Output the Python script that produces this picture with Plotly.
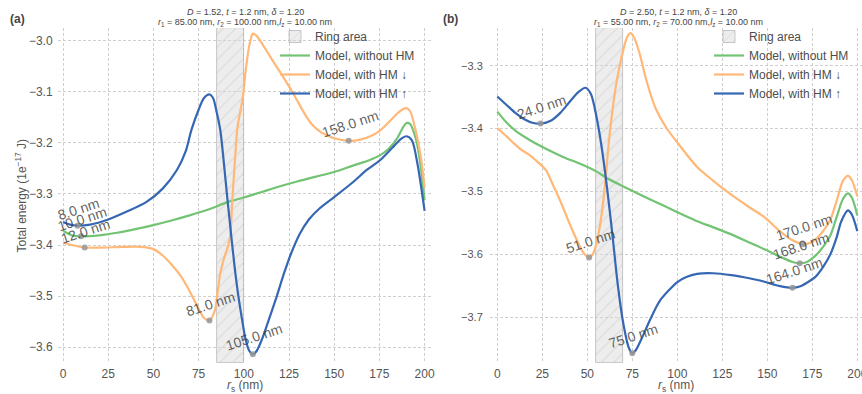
import plotly.graph_objects as go

W, H = 862, 394

# ---------------- data: panel (a) ----------------
A_D, A_T, A_DELTA, A_R1, A_R2, A_LZ = 1.52, 1.2, 1.20, 85.0, 100.0, 10.0

a_green_x = [0, 5, 10, 20, 30, 40, 50, 60, 70, 80, 91, 100, 110, 120, 130, 140, 150, 160, 170, 175, 180, 185, 188, 190, 192, 195, 197, 200]
a_green_y = [-3.372, -3.381, -3.383, -3.381, -3.376, -3.369, -3.361, -3.352, -3.342, -3.331, -3.316, -3.307, -3.296, -3.285,
             -3.275, -3.266, -3.257, -3.245, -3.233, -3.225, -3.212, -3.190, -3.170, -3.161, -3.163, -3.190, -3.225, -3.312]

a_orange_x = [0, 5, 12, 20, 30, 40, 45, 50, 55, 60, 65, 70, 75, 78, 81, 84, 85.5, 87, 89, 91, 92.5, 93.5, 95, 96.5, 99.5, 101, 103, 105,
              107, 110, 113, 118, 122, 126, 130, 134, 138, 143, 150, 158, 165, 170, 175, 180, 185, 188, 190, 192, 195, 198, 200]
a_orange_y = [-3.395, -3.400, -3.405, -3.405, -3.404, -3.403, -3.404, -3.408, -3.420, -3.438, -3.460, -3.490, -3.525, -3.543, -3.548,
              -3.528, -3.492, -3.455, -3.427, -3.405, -3.382, -3.320, -3.240, -3.170, -3.110, -3.060, -3.010, -2.986,
              -2.990, -3.005, -3.022, -3.050, -3.072, -3.095, -3.120, -3.145, -3.165, -3.180, -3.191, -3.196, -3.193, -3.187,
              -3.177, -3.160, -3.142, -3.134, -3.132, -3.138, -3.175, -3.230, -3.288]

a_blue_x = [0, 4, 8, 15, 25, 35, 46, 55, 63, 68, 71, 75, 78, 81, 83, 85, 87, 89, 91, 93, 95, 97, 99, 101, 103, 105, 107, 110, 113,
            118, 122, 126, 131, 136, 142, 150, 160, 168, 175, 182, 187, 190, 193, 196, 200]
a_blue_y = [-3.355, -3.360, -3.362, -3.360, -3.350, -3.335, -3.316, -3.290, -3.253, -3.215, -3.175, -3.135, -3.112, -3.105, -3.112,
            -3.140, -3.175, -3.240, -3.312, -3.380, -3.445, -3.500, -3.545, -3.585, -3.607, -3.614, -3.608, -3.585, -3.555,
            -3.503, -3.458, -3.418, -3.378, -3.350, -3.328, -3.306, -3.278, -3.253, -3.235, -3.210, -3.192, -3.187, -3.195,
            -3.240, -3.333]

a_min_x = [8, 10, 12, 81, 105, 158]
a_min_y = [-3.362, -3.383, -3.405, -3.548, -3.614, -3.196]

# ---------------- data: panel (b) ----------------
B_D, B_T, B_DELTA, B_R1, B_R2, B_LZ = 2.50, 1.2, 1.20, 55.0, 70.0, 10.0

b_green_x = [0, 5, 10, 18, 27, 36.5, 46, 55, 61, 70, 80, 92, 100, 110, 120, 129, 140, 150, 158, 164, 168, 172, 176, 181, 185, 188.6, 192, 194.8, 197, 200]
b_green_y = [-3.373, -3.390, -3.403, -3.418, -3.432, -3.445, -3.456, -3.468, -3.479, -3.492, -3.506, -3.522, -3.533, -3.546, -3.557,
             -3.567, -3.581, -3.594, -3.605, -3.612, -3.614, -3.612, -3.604, -3.588, -3.570, -3.540, -3.512, -3.503, -3.510, -3.538]

b_orange_x = [0, 5, 9, 13, 18, 22, 27, 31, 35, 40, 44, 48, 51, 53, 56, 58, 60, 62, 64, 66, 68, 70, 72, 74, 76, 79, 83, 88, 94, 100,
              111, 120, 129, 140, 148, 157, 163, 170, 175, 181, 185, 188.6, 192, 194.8, 197, 200]
b_orange_y = [-3.399, -3.412, -3.423, -3.433, -3.442, -3.452, -3.466, -3.490, -3.515, -3.550, -3.576, -3.598, -3.605, -3.600, -3.571,
              -3.535, -3.485, -3.420, -3.370, -3.330, -3.300, -3.275, -3.255, -3.248, -3.255, -3.280, -3.325, -3.368, -3.399,
              -3.422, -3.461, -3.483, -3.503, -3.525, -3.540, -3.563, -3.576, -3.584, -3.580, -3.563, -3.545, -3.514, -3.483,
              -3.475, -3.482, -3.508]

b_blue_x = [0, 5, 10, 15, 20, 24, 30, 35, 40, 45, 49, 52, 55, 58, 61, 64, 67, 70, 73, 75, 77, 80, 85, 90, 95, 100, 105, 111, 120,
            130, 140, 148, 155, 160, 164, 168, 172, 177, 181, 185, 188.6, 191, 194.8, 197, 200]
b_blue_y = [-3.349, -3.362, -3.375, -3.385, -3.391, -3.392, -3.387, -3.375, -3.358, -3.342, -3.335, -3.345, -3.380, -3.430, -3.495,
            -3.570, -3.650, -3.710, -3.748, -3.757, -3.752, -3.735, -3.703, -3.675, -3.658, -3.644, -3.636, -3.631, -3.630,
            -3.633, -3.638, -3.643, -3.649, -3.652, -3.653, -3.651, -3.645, -3.635, -3.620, -3.600, -3.572, -3.548, -3.530,
            -3.537, -3.563]

b_min_x = [24, 51, 75, 170, 168, 164]
b_min_y = [-3.392, -3.605, -3.757, -3.584, -3.614, -3.653]

x_ticks = [0, 25, 50, 75, 100, 125, 150, 175, 200]
a_y_ticks = [-3.6, -3.5, -3.4, -3.3, -3.2, -3.1, -3.0]
b_y_ticks = [-3.7, -3.6, -3.5, -3.4, -3.3]

series_names = ["Model, without HM", "Model, with HM ↓", "Model, with HM ↑"]

# ---------------- style ----------------
GREEN, ORANGE, BLUE = "#72c373", "#ffb877", "#3567b3"
GRID = "#cfcfcf"
TXT = "#555555"
FONT = "Liberation Sans, Arial"

def pxx(p):
    return p / W

def pxy(p):
    return 1 - p / H

A_DOM = (58, 432)
B_DOM = (490, 862)
Y_DOM = (28, 363)
A_XR = [-2.77, 204.1]
A_YR = [-3.631, -2.975]
B_XR = [-4.06, 202.6]
B_YR = [-3.7727, -3.240]

fig = go.Figure()

panels = [
    dict(xa="x", ya="y", leg="legend", xr=A_XR, yr=A_YR, r1=A_R1, r2=A_R2,
         series=[(a_green_x, a_green_y, GREEN), (a_orange_x, a_orange_y, ORANGE), (a_blue_x, a_blue_y, BLUE)],
         mins=(a_min_x, a_min_y)),
    dict(xa="x2", ya="y2", leg="legend2", xr=B_XR, yr=B_YR, r1=B_R1, r2=B_R2,
         series=[(b_green_x, b_green_y, GREEN), (b_orange_x, b_orange_y, ORANGE), (b_blue_x, b_blue_y, BLUE)],
         mins=(b_min_x, b_min_y)),
]

for p in panels:
    lo, hi = p["yr"]
    fig.add_trace(go.Bar(
        x=[(p["r1"] + p["r2"]) / 2], y=[hi - lo], base=[lo], width=[p["r2"] - p["r1"]],
        xaxis=p["xa"], yaxis=p["ya"], legend=p["leg"], name="Ring area",
        marker=dict(color="rgba(215,215,215,0.45)",
                    line=dict(color="rgba(170,170,170,0.8)", width=0.8),
                    pattern=dict(shape="/", fgcolor="#c4c4c4", size=9, solidity=0.12)),
        hoverinfo="skip"))
    for (sx, sy, col), nm in zip(p["series"], series_names):
        fig.add_trace(go.Scatter(
            x=sx, y=sy, mode="lines", name=nm, xaxis=p["xa"], yaxis=p["ya"], legend=p["leg"],
            line=dict(color=col, width=2.2, shape="spline", smoothing=0.8), hoverinfo="skip"))
    mx, my = p["mins"]
    fig.add_trace(go.Scatter(
        x=mx, y=my, mode="markers", showlegend=False, xaxis=p["xa"], yaxis=p["ya"],
        marker=dict(color="rgba(150,150,150,0.85)", size=6), hoverinfo="skip"))
    for x0, y0 in zip(mx, my):
        fig.add_annotation(x=x0, y=y0, xref=p["xa"], yref=p["ya"], text=f"{x0:.1f} nm",
                           showarrow=False, textangle=-18, xanchor="center", yanchor="middle",
                           yshift=17, xshift=1,
                           font=dict(size=14, color="rgba(60,60,60,0.82)", family=FONT))

axis_common = dict(showgrid=True, gridcolor=GRID, griddash="3px,2px", gridwidth=0.8, zeroline=False,
                   showline=False, ticks="outside", ticklen=2, tickcolor="rgba(0,0,0,0)", automargin=False,
                   tickfont=dict(size=12, color=TXT, family=FONT))

fig.update_layout(
    width=W, height=H, margin=dict(l=0, r=0, t=0, b=0),
    paper_bgcolor="white", plot_bgcolor="white",
    font=dict(family=FONT, color=TXT),
    barmode="overlay", bargap=0, hovermode=False,
    xaxis=dict(domain=[pxx(A_DOM[0]), pxx(A_DOM[1])], range=A_XR, tickvals=x_ticks, anchor="y",
               **{**axis_common, "ticklen": 0}),
    yaxis=dict(domain=[pxy(Y_DOM[1]), pxy(Y_DOM[0])], range=A_YR, tickvals=a_y_ticks, tickformat=".1f", anchor="x",
               **axis_common),
    xaxis2=dict(domain=[pxx(B_DOM[0]), 1.0], range=B_XR, tickvals=x_ticks, anchor="y2",
                ticklabeloverflow="allow", **{**axis_common, "ticklen": 0}),
    yaxis2=dict(domain=[pxy(Y_DOM[1]), pxy(Y_DOM[0])], range=B_YR, tickvals=b_y_ticks, tickformat=".1f", anchor="x2",
                **{**axis_common, "ticklen": 4, "tickfont": dict(size=11, color=TXT, family=FONT)}),
    legend=dict(x=pxx(275), y=pxy(22), xanchor="left", yanchor="top", bgcolor="rgba(255,255,255,0)",
                font=dict(size=12, color="#4d4d4d", family=FONT), tracegroupgap=0, itemwidth=30),
    legend2=dict(x=pxx(709), y=pxy(22), xanchor="left", yanchor="top", bgcolor="rgba(255,255,255,0)",
                 font=dict(size=12, color="#4d4d4d", family=FONT), tracegroupgap=0, itemwidth=30),
)

# axis titles as paper annotations
for cx in [(A_DOM[0] + A_DOM[1]) / 2, (B_DOM[0] + 866) / 2 - 2]:
    fig.add_annotation(x=pxx(cx), y=pxy(386), xref="paper", yref="paper",
                       text="<i>r</i><sub>s</sub> (nm)", showarrow=False, xanchor="center", yanchor="middle",
                       font=dict(size=12, color=TXT, family=FONT))
fig.add_annotation(x=pxx(20), y=pxy((Y_DOM[0] + Y_DOM[1]) / 2), xref="paper", yref="paper",
                   text="Total energy (1e<sup>−17</sup> J)", showarrow=False, textangle=-90,
                   xanchor="center", yanchor="middle", font=dict(size=12, color=TXT, family=FONT))

def title_lines(D, t, d, r1, r2, lz):
    l1 = f"<i>D</i> = {D:.2f}, <i>t</i> = {t:.1f} nm, <i>δ</i> = {d:.2f}"
    l2 = (f"<i>r</i><sub>1</sub> = {r1:.2f} nm, <i>r</i><sub>2</sub> = {r2:.2f} nm,"
          f"<i>l</i><sub>z</sub> = {lz:.2f} nm")
    return l1, l2

for (cx, label, lx, params) in [((A_DOM[0] + A_DOM[1]) / 2, "(a)", 17, (A_D, A_T, A_DELTA, A_R1, A_R2, A_LZ)),
                                 ((B_DOM[0] + 866) / 2, "(b)", 450, (B_D, B_T, B_DELTA, B_R1, B_R2, B_LZ))]:
    l1, l2 = title_lines(*params)
    fig.add_annotation(x=pxx(cx), y=pxy(12), xref="paper", yref="paper", text=l1, showarrow=False,
                       xanchor="center", yanchor="middle", font=dict(size=9, color="#444", family=FONT))
    fig.add_annotation(x=pxx(cx), y=pxy(22), xref="paper", yref="paper", text=l2, showarrow=False,
                       xanchor="center", yanchor="middle", font=dict(size=9, color="#444", family=FONT))
    fig.add_annotation(x=pxx(lx), y=pxy(19), xref="paper", yref="paper", text=f"<b>{label}</b>",
                       showarrow=False, xanchor="center", yanchor="middle", font=dict(size=12, color="#444", family=FONT))

fig.write_html("out.html", config={"displayModeBar": False},
               post_script="document.body.style.margin='0';document.body.style.overflow='hidden';")
